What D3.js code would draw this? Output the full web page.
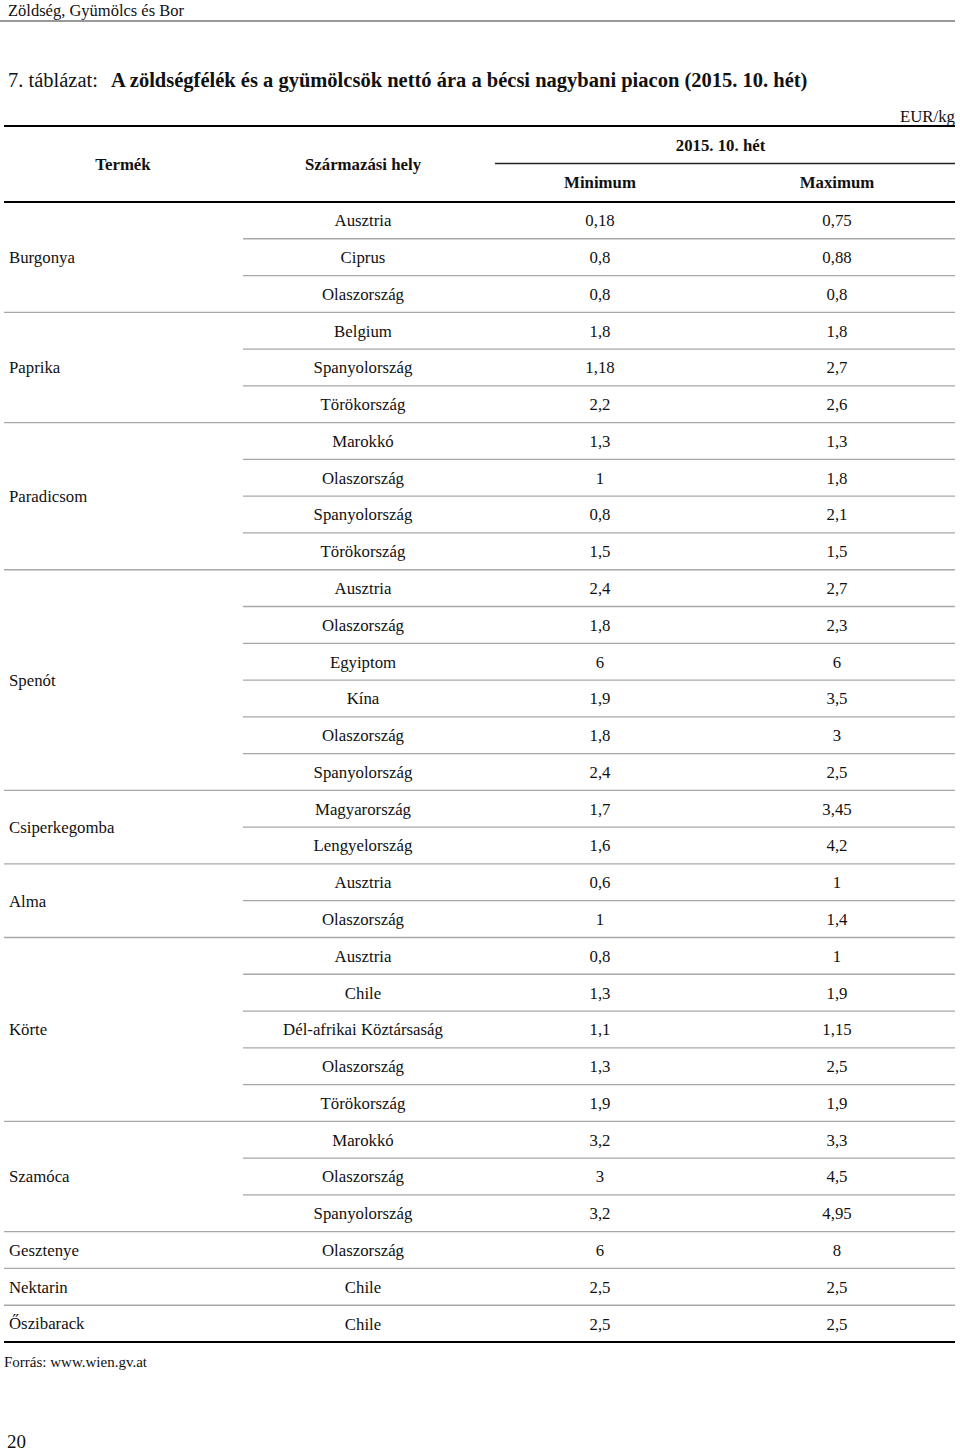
<!DOCTYPE html>
<html>
<head>
<meta charset="utf-8">
<script src="https://cdn.jsdelivr.net/npm/d3@7"></script>
<style>
  body { margin: 0; background: #fff; }
  svg text { font-family: "Liberation Serif", "Times New Roman", serif; fill: #111; }
</style>
</head>
<body>
<div id="chart"></div>
<script>
// ---------------------------------------------------------------------------//
// Data (read off the table)
// ---------------------------------------------------------------------------//
const products = ["Burgonya", "Paprika", "Paradicsom", "Spenót", "Csiperkegomba",
  "Alma", "Körte", "Szamóca", "Gesztenye", "Nektarin", "Őszibarack"];
const groupSizes = [3, 3, 4, 6, 2, 2, 5, 3, 1, 1, 1];

const origins = [
  "Ausztria", "Ciprus", "Olaszország",
  "Belgium", "Spanyolország", "Törökország",
  "Marokkó", "Olaszország", "Spanyolország", "Törökország",
  "Ausztria", "Olaszország", "Egyiptom", "Kína", "Olaszország", "Spanyolország",
  "Magyarország", "Lengyelország",
  "Ausztria", "Olaszország",
  "Ausztria", "Chile", "Dél-afrikai Köztársaság", "Olaszország", "Törökország",
  "Marokkó", "Olaszország", "Spanyolország",
  "Olaszország", "Chile", "Chile",
];
const minPrices = [0.18, 0.8, 0.8, 1.8, 1.18, 2.2, 1.3, 1, 0.8, 1.5, 2.4, 1.8, 6, 1.9, 1.8, 2.4,
  1.7, 1.6, 0.6, 1, 0.8, 1.3, 1.1, 1.3, 1.9, 3.2, 3, 3.2, 6, 2.5, 2.5];
const maxPrices = [0.75, 0.88, 0.8, 1.8, 2.7, 2.6, 1.3, 1.8, 2.1, 1.5, 2.7, 2.3, 6, 3.5, 3, 2.5,
  3.45, 4.2, 1, 1.4, 1, 1.9, 1.15, 2.5, 1.9, 3.3, 4.5, 4.95, 8, 2.5, 2.5];

const columnKeys = ["product", "origin", "min", "max"];
const columnHeaders = ["Termék", "Származási hely", "Minimum", "Maximum"];

// ---------------------------------------------------------------------------//
// Layout
// ---------------------------------------------------------------------------//
const width = 960;
const height = 1451;
const tableLeft = 4;
const tableRight = 955;
const innerLeft = 243;
const bodyTop = 202;
const bodyBottom = 1342;
const fontSize = 16.8;

const fmt = (v) => String(v).replace(".", ",");

// group index for each row
const rowGroup = [];
groupSizes.forEach((n, g) => { for (let i = 0; i < n; i++) rowGroup.push(g); });
const rowIdx = d3.range(origins.length);

const y = d3.scaleBand().domain(rowIdx).range([bodyTop, bodyBottom]);
const x = d3.scaleOrdinal().domain(columnKeys).range([9, 363, 600, 837]);

const svg = d3.select("#chart").append("svg")
  .attr("width", width).attr("height", height);

// page header
svg.append("text").attr("x", 8).attr("y", 16).attr("font-size", 16.5)
  .attr("fill", "#222").text("Zöldség, Gyümölcs és Bor");
svg.append("line").attr("x1", 0).attr("x2", tableRight).attr("y1", 21).attr("y2", 21)
  .attr("stroke", "#777").attr("stroke-width", 1.5);

// title
const title = svg.append("text").attr("x", 8).attr("y", 87).attr("font-size", 20.5);
title.append("tspan").text("7. táblázat:");
title.append("tspan").attr("x", 111).attr("font-weight", "bold")
  .text("A zöldségfélék és a gyümölcsök nettó ára a bécsi nagybani piacon (2015. 10. hét)");

svg.append("text").attr("x", tableRight).attr("y", 122).attr("text-anchor", "end")
  .attr("font-size", fontSize).text("EUR/kg");

// header rules
const rule = (x1, x2, yy, w, c) => svg.append("line")
  .attr("x1", x1).attr("x2", x2).attr("y1", yy).attr("y2", yy)
  .attr("stroke", c).attr("stroke-width", w);
rule(tableLeft, tableRight, 126, 2, "#000");
rule(495, tableRight, 163.5, 1.5, "#222");
rule(tableLeft, tableRight, bodyTop, 2.2, "#000");
rule(tableLeft, tableRight, bodyBottom, 2.2, "#000");

// header labels
const headG = svg.append("g").attr("font-size", fontSize).attr("font-weight", "bold")
  .attr("text-anchor", "middle");
headG.append("text").attr("x", 123).attr("y", 170).text(columnHeaders[0]);
headG.append("text").attr("x", x("origin")).attr("y", 170).text(columnHeaders[1]);
headG.append("text").attr("x", (x("min") + x("max")) / 2 + 2).attr("y", 151).text("2015. 10. hét");
headG.append("text").attr("x", x("min")).attr("y", 188).text(columnHeaders[2]);
headG.append("text").attr("x", x("max")).attr("y", 188).text(columnHeaders[3]);

// row separators
svg.append("g").selectAll("line")
  .data(rowIdx.slice(0, -1))
  .join("line")
  .attr("x1", (i) => rowGroup[i] !== rowGroup[i + 1] ? tableLeft : innerLeft)
  .attr("x2", tableRight)
  .attr("y1", (i) => y(i) + y.bandwidth())
  .attr("y2", (i) => y(i) + y.bandwidth())
  .attr("stroke", "#a8a8a8")
  .attr("stroke-width", 1.3);

// product labels, centred on their group
let start = 0;
const groupCenters = groupSizes.map((n) => {
  const c = (y(start) + y(start + n - 1) + y.bandwidth()) / 2;
  start += n;
  return c;
});
svg.append("g").attr("font-size", fontSize).selectAll("text")
  .data(products)
  .join("text")
  .attr("x", x("product"))
  .attr("y", (d, i) => groupCenters[i])
  .attr("dy", "0.35em")
  .text((d) => d);

// body cells
const bodyG = svg.append("g").attr("font-size", fontSize).attr("text-anchor", "middle");
const cellRows = bodyG.selectAll("g.row").data(rowIdx).join("g").attr("class", "row")
  .attr("transform", (i) => `translate(0,${y(i) + y.bandwidth() / 2})`);
cellRows.append("text").attr("x", x("origin")).attr("dy", "0.35em").text((i) => origins[i]);
cellRows.append("text").attr("x", x("min")).attr("dy", "0.35em").text((i) => fmt(minPrices[i]));
cellRows.append("text").attr("x", x("max")).attr("dy", "0.35em").text((i) => fmt(maxPrices[i]));

// footer
svg.append("text").attr("x", 4).attr("y", 1367).attr("font-size", 15)
  .text("Forrás: www.wien.gv.at");
svg.append("text").attr("x", 7).attr("y", 1448).attr("font-size", 19).text("20");
</script>
</body>
</html>
